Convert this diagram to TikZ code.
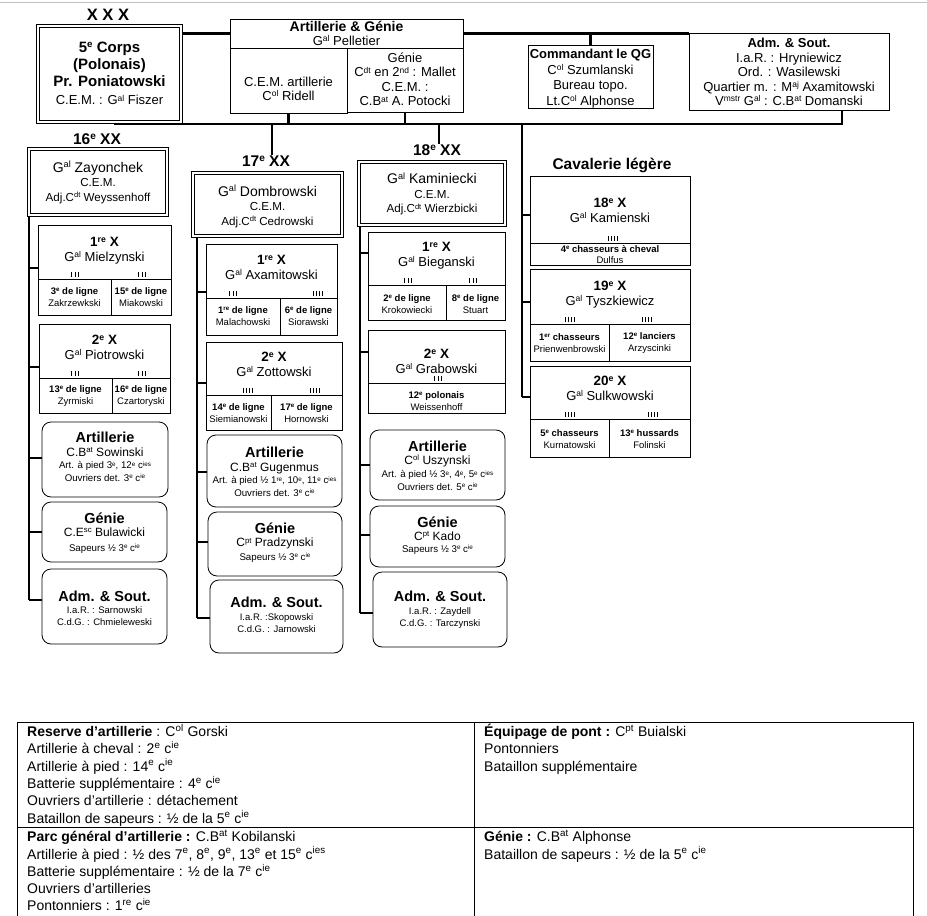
\documentclass[tikz,border=0pt]{standalone}
\usepackage{fontspec}
\setmainfont{Liberation Sans}
\newcommand{\sps}[1]{\raisebox{0.3em}{\scalebox{0.65}{#1}}}
\newcommand{\tsp}[1]{\textsuperscript{#1}}
\newcommand{\fsz}[2]{\fontsize{#1}{#2}\selectfont}
\newcommand{\bxn}[6]{\node[#6, minimum width={(#4-#2)*1pt}, minimum height={(#5-#3)*1pt}] (#1) at ({(#2+#4)/2},{(#3+#5)/2}) {};}
\newcommand{\txt}[4]{\node[tx, #3] (#1) at (#2) {#4};}
\newcommand{\tks}[3]{\foreach \tkn in {1,...,#3} {\draw[tk] ({#1+(\tkn-(#3+1)/2)*3.2},#2) -- ++(0,-5.5);}}
\newcommand{\stub}[3]{\coordinate (#1) at (#2); \draw[conn] (#1) -- (#1 -| #3.west);}
\newcommand{\xhd}[4]{\txt{#1}{#2}{font=\fsz{13}{15}}{{\fsz{13.5}{15}\bfseries #3}\\#4}}
\newcommand{\xsub}[4]{\txt{#1}{#2}{font=\fsz{9.5}{11.5}}{\textbf{#3}\\#4}}
\begin{document}
\begin{tikzpicture}[x=1pt, y=-1pt,
  bx/.style={draw, line width=0.8pt, fill=white, inner sep=0pt},
  rbx/.style={bx, rounded corners=9pt},
  dbx/.style={draw, double, double distance=2.2pt, line width=1.1pt, fill=white, inner sep=0pt},
  tx/.style={inner sep=0pt, align=center},
  conn/.style={line width=2.8pt},
  tk/.style={line width=0.7pt},
  hd/.style={tx, font=\fsz{15.5}{17}\bfseries},
  tline/.style={line width=0.8pt},
  tbl/.style={anchor=north west, inner sep=0pt, align=left, font=\fsz{14}{17.3}}]
\useasboundingbox (0,0) rectangle (927,916);
\fill[white] (0,0) rectangle (927,916);
\draw[black!25, line width=0.8pt] (0,2.5) -- (927,2.5);

% ---------- top level ----------
\node[hd, font=\fsz{16.5}{18}\bfseries] (xxx) at (108,15) {X X X};
\bxn{corps}{38}{26}{181}{122}{dbx}
\bxn{artT}{230}{19}{463}{48}{bx}
\bxn{artL}{230}{48}{347}{113}{bx}
\bxn{artR}{347}{48}{463}{112}{bx}
\bxn{qg}{528}{45}{653}{108}{bx}
\bxn{admT}{689}{33}{889}{110}{bx}

% connectors of the top level
\draw[conn] (artT.west -| corps.east) -- (artT.west);
\draw[conn] (artT.east) -- (artT.east -| admT.west);
\draw[conn] (qg.north |- artT.east) -- (qg.north);
\coordinate (bb0) at (115,124);
\coordinate (bb1) at (842,124);
\draw[conn] (bb0 |- corps.south) -- (bb0) -- (bb1) -- (bb1 |- admT.south);
\draw[conn] (artL.south) -- (artL.south |- bb0);
\draw[conn] (artR.south) -- (artR.south |- bb0);

\txt{tcorps}{109.5,73.5}{font=\fsz{15}{17}\bfseries}{5\sps{e} Corps\\(Polonais)\\Pr. Poniatowski\\[1.5pt]{\fsz{13}{15}\mdseries C.E.M. : G\sps{al} Fiszer}}
\txt{tartT}{346.5,33.5}{font=\fsz{13}{14}}{{\fsz{14}{14}\bfseries Artillerie \& Génie}\\G\sps{al} Pelletier}
\txt{tartL}{288.5,89}{font=\fsz{13}{14}}{C.E.M. artillerie\\C\sps{ol} Ridell}
\txt{tartR}{405,79.5}{font=\fsz{13}{14.5}}{Génie\\C\sps{dt} en 2\sps{nd} : Mallet\\C.E.M. :\\C.B\sps{at} A. Potocki}
\txt{tqg}{590.5,78.5}{font=\fsz{13}{15.5}}{\textbf{Commandant le QG}\\C\sps{ol} Szumlanski\\Bureau topo.\\Lt.C\sps{ol} Alphonse}
\txt{tadmT}{789,72}{font=\fsz{13}{14.5}}{\textbf{Adm. \& Sout.}\\I.a.R. : Hryniewicz\\Ord. : Wasilewski\\Quartier m. : M\sps{aj} Axamitowski\\V\sps{mstr} G\sps{al} : C.B\sps{at} Domanski}

% ---------- headings ----------
\node[hd] (d16lab) at (97,139) {16\sps{e} XX};
\node[hd] (d17lab) at (266,161) {17\sps{e} XX};
\node[hd] (d18lab) at (437,150) {18\sps{e} XX};
\node[hd] (cavlab) at (612,165) {Cavalerie légère};

\coordinate (v17) at (272,124);
\coordinate (v18) at (439,124);
\draw[conn] (v17) -- (v17 |- d17lab.north);
\draw[conn] (v18) -- (v18 |- d18lab.north);

% ---------- column lines ----------
\coordinate (c16t) at (29,215);
\coordinate (c16b) at (29,600);
\draw[conn] (c16t) -- (c16b);
\coordinate (c17t) at (197,236);
\coordinate (c17b) at (197,618);
\draw[conn] (c17t) -- (c17b);
\coordinate (c18t) at (360,225);
\coordinate (c18b) at (360,613);
\draw[conn] (c18t) -- (c18b);
\coordinate (vc) at (522,124);
\coordinate (vcb) at (522,397);
\draw[conn] (vc) -- (vcb);

% ---------- 16e division ----------
\bxn{d16}{29}{149}{167}{215}{dbx}
\txt{td16}{98,182.5}{font=\fsz{11.6}{14.5}}{{\fsz{14}{14}G\sps{al} Zayonchek}\\C.E.M.\\Adj.C\sps{dt} Weyssenhoff}
\bxn{b16a}{38}{225}{171}{279}{bx}
\bxn{b16a1}{38}{279}{111}{315}{bx}
\bxn{b16a2}{111}{279}{171}{315}{bx}
\bxn{b16b}{39}{324}{170}{378}{bx}
\bxn{b16b1}{39}{378}{112}{413}{bx}
\bxn{b16b2}{112}{378}{170}{413}{bx}
\bxn{b16art}{42}{422}{168}{497}{rbx}
\bxn{b16gen}{42}{502}{167}{562}{rbx}
\bxn{b16adm}{42}{569}{167}{644}{rbx}
\stub{s16a}{29,268}{b16a}
\stub{s16b}{29,367}{b16b}
\stub{s16c}{29,458}{b16art}
\stub{s16d}{29,532}{b16gen}
\stub{s16e}{29,600}{b16adm}
\xhd{t16a}{104.5,250.5}{1\sps{re} X}{G\sps{al} Mielzynski}
\xsub{t16a1}{74.5,297}{3\sps{e} de ligne}{Zakrzewkski}
\xsub{t16a2}{141,297}{15\sps{e} de ligne}{Miakowski}
\tks{75}{277}{3}\tks{142}{277}{3}
\xhd{t16b}{104.5,347}{2\sps{e} X}{G\sps{al} Piotrowski}
\xsub{t16b1}{75.5,396}{13\sps{e} de ligne}{Zyrmiski}
\xsub{t16b2}{141,396}{16\sps{e} de ligne}{Czartoryski}
\tks{75}{376}{3}\tks{142}{376}{3}
\txt{t16art}{105,457}{font=\fsz{9.7}{12.5}}{{\fsz{14.5}{14}\bfseries Artillerie}\\[1pt]{\fsz{12}{13}C.B\sps{at} Sowinski}\\Art. à pied 3\sps{e}, 12\sps{e} c\sps{ies}\\Ouvriers det. 3\sps{e} c\sps{ie}}
\txt{t16gen}{104.5,533}{font=\fsz{9.7}{13}}{{\fsz{14.5}{14}\bfseries Génie}\\{\fsz{12}{13}C.E\sps{sc} Bulawicki}\\[2pt]Sapeurs ½ 3\sps{e} c\sps{ie}}
\txt{t16adm}{104.5,608}{font=\fsz{9.5}{12}}{{\fsz{14.5}{14}\bfseries Adm. \& Sout.}\\I.a.R. : Sarnowski\\C.d.G. : Chmieleweski}

% ---------- 17e division ----------
\bxn{d17}{193}{173}{342}{236}{dbx}
\txt{td17}{267.5,206.5}{font=\fsz{11.6}{14.5}}{{\fsz{14}{14}G\sps{al} Dombrowski}\\C.E.M.\\Adj.C\sps{dt} Cedrowski}
\bxn{b17a}{206}{244}{337}{298}{bx}
\bxn{b17a1}{206}{298}{280}{335}{bx}
\bxn{b17a2}{280}{298}{337}{335}{bx}
\bxn{b17b}{206}{342}{342}{395}{bx}
\bxn{b17b1}{206}{395}{271}{430}{bx}
\bxn{b17b2}{271}{395}{342}{430}{bx}
\bxn{b17art}{207}{435}{342}{507}{rbx}
\bxn{b17gen}{208}{512}{342}{576}{rbx}
\bxn{b17adm}{210}{580}{343}{653}{rbx}
\stub{s17a}{197,292}{b17a}
\stub{s17b}{197,383}{b17b}
\stub{s17c}{197,472}{b17art}
\stub{s17d}{197,542}{b17gen}
\stub{s17e}{197,618}{b17adm}
\xhd{t17a}{271.5,267}{1\sps{re} X}{G\sps{al} Axamitowski}
\xsub{t17a1}{243,316}{1\sps{re} de ligne}{Malachowski}
\xsub{t17a2}{308.5,316}{6\sps{e} de ligne}{Siorawski}
\tks{233}{296}{3}\tks{318}{296}{4}
\xhd{t17b}{274,364.5}{2\sps{e} X}{G\sps{al} Zottowski}
\xsub{t17b1}{238.5,413}{14\sps{e} de ligne}{Siemianowski}
\xsub{t17b2}{306.5,413}{17\sps{e} de ligne}{Hornowski}
\tks{248}{393}{4}\tks{315}{393}{4}
\txt{t17art}{274.5,472}{font=\fsz{9.7}{12.5}}{{\fsz{14.5}{14}\bfseries Artillerie}\\[1pt]{\fsz{12}{13}C.B\sps{at} Gugenmus}\\Art. à pied ½ 1\sps{re}, 10\sps{e}, 11\sps{e} c\sps{ies}\\Ouvriers det. 3\sps{e} c\sps{ie}}
\txt{t17gen}{275,543}{font=\fsz{9.7}{13}}{{\fsz{14.5}{14}\bfseries Génie}\\{\fsz{12}{13}C\sps{pt} Pradzynski}\\[1pt]Sapeurs ½ 3\sps{e} c\sps{ie}}
\txt{t17adm}{276.5,615}{font=\fsz{9.5}{12.5}}{{\fsz{14.5}{14}\bfseries Adm. \& Sout.}\\I.a.R. :Skopowski\\C.d.G. : Jarnowski}

% ---------- 18e division ----------
\bxn{d18}{359}{162}{505}{225}{dbx}
\txt{td18}{432,194}{font=\fsz{11.6}{14.5}}{{\fsz{14}{14}G\sps{al} Kaminiecki}\\C.E.M.\\Adj.C\sps{dt} Wierzbicki}
\bxn{b18a}{368}{232}{505}{285}{bx}
\bxn{b18a1}{368}{285}{446}{320}{bx}
\bxn{b18a2}{446}{285}{505}{320}{bx}
\bxn{b18b}{368}{330}{505}{383}{bx}
\bxn{b18b1}{368}{383}{505}{413}{bx}
\bxn{b18art}{370}{430}{505}{500}{rbx}
\bxn{b18gen}{370}{506}{505}{567}{rbx}
\bxn{b18adm}{373}{572}{507}{647}{rbx}
\stub{s18a}{360,253}{b18a}
\stub{s18b}{360,352}{b18b}
\stub{s18c}{360,465}{b18art}
\stub{s18d}{360,535}{b18gen}
\stub{s18e}{360,613}{b18adm}
\xhd{t18a}{436.5,256}{1\sps{re} X}{G\sps{al} Bieganski}
\xsub{t18a1}{407,304}{2\sps{e} de ligne}{Krokowiecki}
\xsub{t18a2}{475.5,304}{8\sps{e} de ligne}{Stuart}
\tks{408}{283}{3}\tks{473}{283}{3}
\xhd{t18b}{436.5,361}{2\sps{e} X}{G\sps{al} Grabowski}
\xsub{t18b1}{436.5,401}{12\sps{e} polonais}{Weissenhoff}
\tks{438}{381}{3}
\txt{t18art}{437.5,466}{font=\fsz{9.7}{12.5}}{{\fsz{14.5}{14}\bfseries Artillerie}\\[0pt]{\fsz{12}{13}C\sps{ol} Uszynski}\\[1pt]Art. à pied ½ 3\sps{e}, 4\sps{e}, 5\sps{e} c\sps{ies}\\Ouvriers det. 5\sps{e} c\sps{ie}}
\txt{t18gen}{437.5,536}{font=\fsz{9.7}{12.5}}{{\fsz{14.5}{14}\bfseries Génie}\\{\fsz{12}{13}C\sps{pt} Kado}\\Sapeurs ½ 3\sps{e} c\sps{ie}}
\txt{t18adm}{440,610}{font=\fsz{9.5}{12.5}}{{\fsz{14.5}{14}\bfseries Adm. \& Sout.}\\I.a.R. : Zaydell\\C.d.G. : Tarczynski}

% ---------- Cavalerie legere ----------
\bxn{c18}{530}{176}{690}{243}{bx}
\bxn{c18s}{530}{243}{690}{265}{bx}
\bxn{c19}{530}{269}{690}{324}{bx}
\bxn{c19a}{530}{324}{609}{361}{bx}
\bxn{c19b}{609}{324}{690}{361}{bx}
\bxn{c20}{530}{366}{690}{419}{bx}
\bxn{c20a}{530}{419}{609}{457}{bx}
\bxn{c20b}{609}{419}{690}{457}{bx}
\stub{sc1}{522,215}{c18}
\stub{sc2}{522,302}{c19}
\stub{sc3}{522,397}{c20}
\xhd{tc18}{610,210.5}{18\sps{e} X}{G\sps{al} Kamienski}
\txt{tc18s}{610,254.5}{font=\fsz{9.5}{11}}{\textbf{4\sps{e} chasseurs à cheval}\\Dulfus}
\tks{613}{241}{4}
\xhd{tc19}{610,294.5}{19\sps{e} X}{G\sps{al} Tyszkiewicz}
\xsub{tc19a}{569.5,343}{1\sps{er} chasseurs}{Prienwenbrowski}
\xsub{tc19b}{649.5,343}{12\sps{e} lanciers}{Arzyscinki}
\tks{570}{322}{4}\tks{647}{322}{4}
\xhd{tc20}{610,388.5}{20\sps{e} X}{G\sps{al} Sulkwowski}
\xsub{tc20a}{569.5,439}{5\sps{e} chasseurs}{Kurnatowski}
\xsub{tc20b}{649.5,439}{13\sps{e} hussards}{Folinski}
\tks{570}{417}{4}\tks{653}{417}{4}

% ---------- table ----------
\draw[tline] (17,722) -- (913,722);
\draw[tline] (17,827) -- (913,827);
\draw[tline] (17,722) -- (17,917);
\draw[tline] (474,722) -- (474,917);
\draw[tline] (913,722) -- (913,917);
\node[tbl] (tb1) at (27,724) {\textbf{Reserve d’artillerie} : C\tsp{ol} Gorski\\Artillerie à cheval : 2\tsp{e} c\tsp{ie}\\Artillerie à pied : 14\tsp{e} c\tsp{ie}\\Batterie supplémentaire : 4\tsp{e} c\tsp{ie}\\Ouvriers d’artillerie : détachement\\Bataillon de sapeurs : ½ de la 5\tsp{e} c\tsp{ie}};
\node[tbl] (tb2) at (27,830) {\textbf{Parc général d’artillerie :} C.B\tsp{at} Kobilanski\\Artillerie à pied : ½ des 7\tsp{e}, 8\tsp{e}, 9\tsp{e}, 13\tsp{e} et 15\tsp{e} c\tsp{ies}\\Batterie supplémentaire : ½ de la 7\tsp{e} c\tsp{ie}\\Ouvriers d’artilleries\\Pontonniers : 1\tsp{re} c\tsp{ie}};
\node[tbl] (tb3) at (484,724) {\textbf{Équipage de pont :} C\tsp{pt} Buialski\\Pontonniers\\Bataillon supplémentaire};
\node[tbl] (tb4) at (484,830) {\textbf{Génie :} C.B\tsp{at} Alphonse\\Bataillon de sapeurs : ½ de la 5\tsp{e} c\tsp{ie}};
\end{tikzpicture}
\end{document}
